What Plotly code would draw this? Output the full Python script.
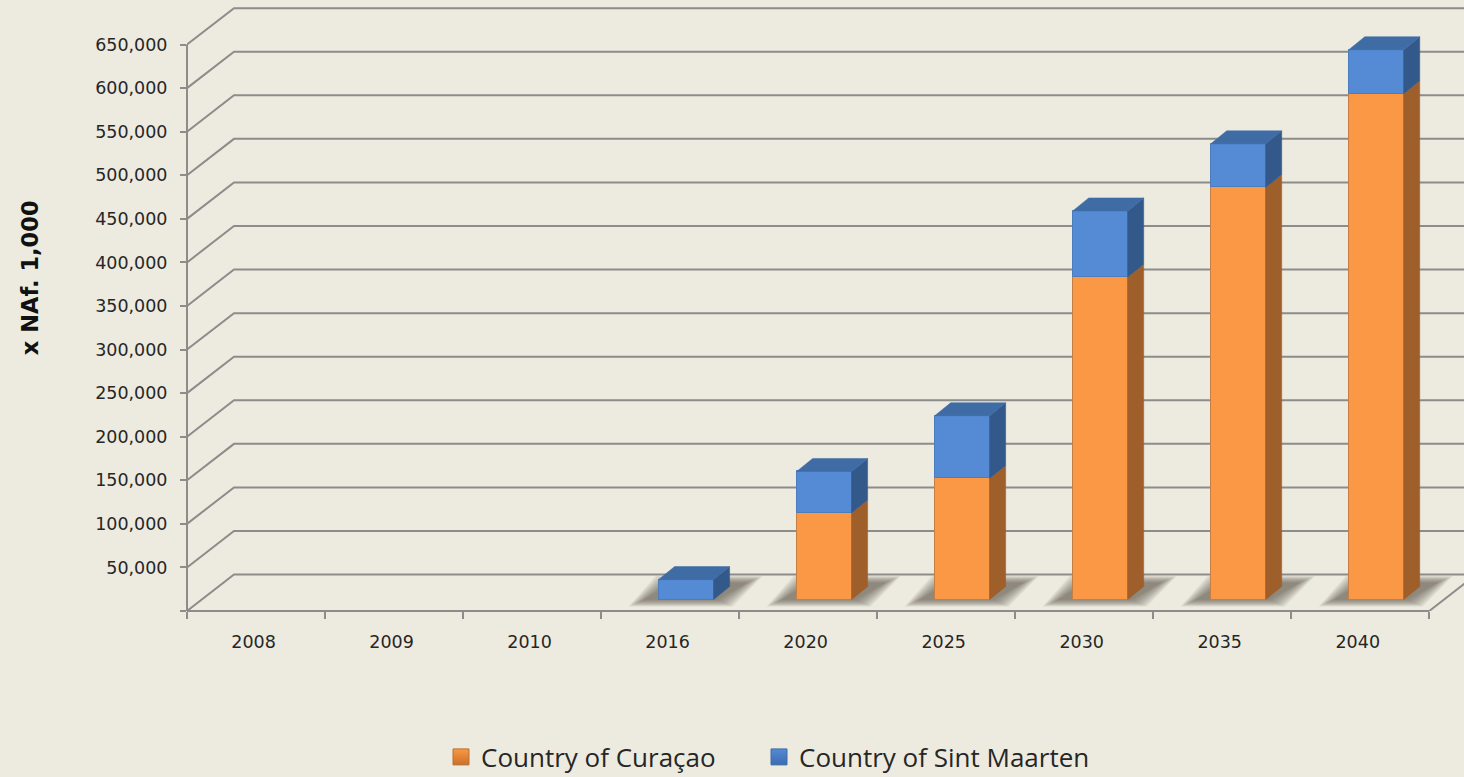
import plotly.graph_objects as go

# ---- data ----
categories = ["2008", "2009", "2010", "2016", "2020", "2025", "2030", "2035", "2040"]
curacao = [0, 0, 0, 0, 99500, 139000, 370000, 473000, 580500]
sint_maarten = [0, 0, 0, 23000, 47500, 72000, 76000, 50000, 50500]
y_ticks = list(range(0, 650001, 50000))
series_names = ["Country of Curaçao", "Country of Sint Maarten"]

# ---- pseudo-3D geometry (in pixels, converted to axis units) ----
W, H = 1464, 777
L, T, B = 187, 7, 610.7
CAT_PX = 138.03
VAL_PX = 50000 / 43.55
X_MAX = (W - L) / CAT_PX
Y_MAX = (B - T) * VAL_PX
px = lambda n: n / CAT_PX
py = lambda n: n * VAL_PX

WALL_DX, WALL_DY = px(47), py(36.4)
BAR_W = px(55)
BAR_SHIFT = px(16)
BAR_BASE = py(11.4)
BAR_DX, BAR_DY = px(16), py(13)

BG = "#EDEBE0"
GRID = "#8C8C8A"
ORANGE, ORANGE_SIDE, ORANGE_LINE = "#FB9845", "#9F5F2B", "#C47F45"
BLUE, BLUE_SIDE, BLUE_TOP, BLUE_LINE = "#548BD4", "#33598A", "#3F6CA5", "#4B7DBD"
TEXT = "#262626"

fig = go.Figure()
shapes = []

# back wall grid lines with their diagonal run to the front axis
for v in y_ticks:
    shapes.append(dict(
        type="path", layer="below", xref="x", yref="y",
        path=f"M 0 {v} L {WALL_DX} {v + WALL_DY} L {X_MAX} {v + WALL_DY}",
        line=dict(color=GRID, width=2),
    ))

# front axis lines (paper reference keeps them from being clipped in half)
shapes.append(dict(type="line", layer="below", xref="paper", yref="y",
                   x0=0, x1=0, y0=0, y1=y_ticks[-1], line=dict(color=GRID, width=2)))
shapes.append(dict(type="line", layer="below", xref="x", yref="paper",
                   x0=0, x1=len(categories), y0=0, y1=0, line=dict(color=GRID, width=2)))
shapes.append(dict(type="line", layer="below", xref="x", yref="y",
                   x0=len(categories), x1=len(categories) + WALL_DX, y0=0, y1=WALL_DY,
                   line=dict(color=GRID, width=2)))

# soft floor shadows: nested layers imitate the blur
for i in range(len(categories)):
    if curacao[i] + sint_maarten[i] <= 0:
        continue
    left = i + 0.5 + BAR_SHIFT - BAR_W / 2
    right = left + BAR_W
    for k in range(10):
        ix = k * 1.7
        iy = k * 0.75
        shapes.append(dict(
            type="path", layer="below", xref="x", yref="y",
            path=(f"M {left - px(30) + px(ix)} {py(4.5 + iy)} "
                  f"L {left - px(3) + px(ix)} {py(35 - iy)} "
                  f"L {right + px(49) - px(ix)} {py(35 - iy)} "
                  f"L {right + px(19) - px(ix)} {py(4.5 + iy)} Z"),
            fillcolor="#5F5B52", opacity=0.1, line=dict(width=0),
        ))

# front faces of the stacked bars
xpos = [i + 0.5 + BAR_SHIFT for i in range(len(categories))]
idx_c = [i for i, v in enumerate(curacao) if v > 0]
idx_s = [i for i, v in enumerate(sint_maarten) if v > 0]
fig.add_trace(go.Bar(
    x=[xpos[i] for i in idx_c], y=[curacao[i] for i in idx_c], base=[BAR_BASE] * len(idx_c),
    width=BAR_W, marker=dict(color=ORANGE, line=dict(color=ORANGE_LINE, width=1)),
    name=series_names[0], showlegend=False, hoverinfo="skip",
))
fig.add_trace(go.Bar(
    x=[xpos[i] for i in idx_s], y=[sint_maarten[i] for i in idx_s],
    base=[BAR_BASE + curacao[i] for i in idx_s],
    width=BAR_W, marker=dict(color=BLUE, line=dict(color=BLUE_LINE, width=1)),
    name=series_names[1], showlegend=False, hoverinfo="skip",
))


def faces(idx, low, high, kind):
    xs, ys = [], []
    for i in idx:
        r = xpos[i] + BAR_W / 2
        l = xpos[i] - BAR_W / 2
        y0, y1 = BAR_BASE + low[i], BAR_BASE + high[i]
        if kind == "side":
            xs += [r, r + BAR_DX, r + BAR_DX, r, r, None]
            ys += [y0, y0 + BAR_DY, y1 + BAR_DY, y1, y0, None]
        else:
            xs += [l, l + BAR_DX, r + BAR_DX, r, l, None]
            ys += [y1, y1 + BAR_DY, y1 + BAR_DY, y1, y1, None]
    return xs, ys


zero = [0] * len(categories)
totals = [a + b for a, b in zip(curacao, sint_maarten)]
for idx, low, high, kind, col in [
    (idx_c, zero, curacao, "side", ORANGE_SIDE),
    (idx_s, curacao, totals, "side", BLUE_SIDE),
    (idx_s, curacao, totals, "top", BLUE_TOP),
]:
    xs, ys = faces(idx, low, high, kind)
    fig.add_trace(go.Scatter(
        x=xs, y=ys, mode="lines", fill="toself", fillcolor=col,
        line=dict(width=0.5, color=col), showlegend=False, hoverinfo="skip",
    ))

# legend keys, one legend box each so both can be placed where the reference has them
for name, col, edge, dark, leg in [(series_names[0], ORANGE, "#B8702F", "#C9702A", "legend"),
                                   (series_names[1], BLUE, "#3F6CA5", "#3A6BB0", "legend2")]:
    fig.add_trace(go.Scatter(
        x=[None], y=[None], mode="markers", name=name, legend=leg,
        marker=dict(symbol="square", size=17, color=col, line=dict(color=edge, width=1),
                    gradient=dict(type="vertical", color=dark)),
    ))


def legend_box(left_px):
    return dict(
        orientation="h", xref="container", yref="container",
        x=left_px / W, xanchor="left", y=1 - 757 / H, yanchor="middle",
        font=dict(family="Open Sans", size=26, color=TEXT),
        bgcolor="rgba(0,0,0,0)", itemsizing="trace",
    )


fig.update_layout(
    width=W, height=H, autosize=False,
    margin=dict(l=L, r=0, t=T, b=H - B, pad=0),
    paper_bgcolor=BG, plot_bgcolor=BG,
    barmode="overlay", bargap=0,
    font=dict(family="DejaVu Sans", color=TEXT),
    shapes=shapes,
    xaxis=dict(
        type="linear", range=[0, X_MAX], showgrid=False, zeroline=False, showline=False,
        tickmode="array", tickvals=[i + 0.5 - px(2.5) for i in range(len(categories))], ticktext=categories,
        ticks="", ticklabelstandoff=18, tickfont=dict(size=17.5, color=TEXT),
        minor=dict(tickmode="array", tickvals=list(range(len(categories) + 1)),
                   ticks="outside", ticklen=7, tickwidth=2, tickcolor=GRID, showgrid=False),
    ),
    yaxis=dict(
        type="linear", range=[0, Y_MAX], showgrid=False, zeroline=False, showline=False,
        tickmode="array", tickvals=y_ticks,
        ticktext=[f"{v:,}" if v else "" for v in y_ticks],
        ticks="outside", ticklen=6, tickwidth=2, tickcolor=GRID,
        ticklabelstandoff=9, tickfont=dict(size=17.5, color=TEXT),
    ),
    legend=legend_box(441),
    legend2=legend_box(759),
    annotations=[dict(
        text="<b>x NAf. 1,000</b>", textangle=-90, xref="paper", yref="paper",
        x=-157 / (W - L), y=(B - 278) / (B - T), xanchor="center", yanchor="middle",
        showarrow=False, font=dict(family="DejaVu Sans", size=22.5, color="#111111"),
    )],
)

fig.write_html("out.html", config={"displayModeBar": False},
               post_script=f"document.body.style.margin='0';document.body.style.background='{BG}';")
